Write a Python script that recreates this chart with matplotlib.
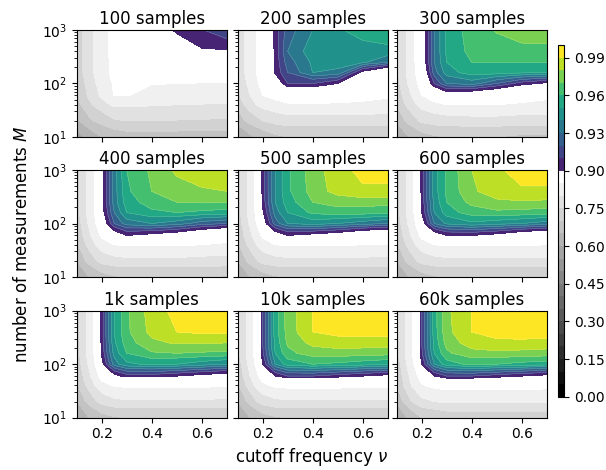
import numpy as np
import matplotlib
matplotlib.use("Agg")
import matplotlib.pyplot as plt

# grid the scan was run on
cutoff = [0.1, 0.15, 0.2, 0.25, 0.3, 0.4, 0.5, 0.6, 0.7]
measurements = [10, 20, 40, 60, 100, 160, 250, 400, 1000]

titles = ["100 samples", "200 samples", "300 samples",
          "400 samples", "500 samples", "600 samples",
          "1k samples", "10k samples", "60k samples"]

# rows go from M=10 (bottom) up to M=1000 (top), columns follow cutoff
acc_100 = [
    [0.58, 0.62, 0.65, 0.67, 0.68, 0.68, 0.68, 0.68, 0.68],
    [0.64, 0.69, 0.72, 0.745, 0.75, 0.75, 0.748, 0.746, 0.745],
    [0.68, 0.74, 0.78, 0.81, 0.81, 0.805, 0.80, 0.798, 0.795],
    [0.70, 0.76, 0.81, 0.852, 0.852, 0.835, 0.83, 0.83, 0.83],
    [0.71, 0.77, 0.825, 0.855, 0.858, 0.852, 0.85, 0.849, 0.848],
    [0.72, 0.78, 0.835, 0.86, 0.865, 0.87, 0.87, 0.87, 0.87],
    [0.72, 0.78, 0.835, 0.86, 0.87, 0.875, 0.88, 0.882, 0.885],
    [0.72, 0.78, 0.835, 0.862, 0.87, 0.88, 0.89, 0.899, 0.899],
    [0.72, 0.78, 0.835, 0.862, 0.87, 0.885, 0.903, 0.909, 0.922],
]
acc_200 = [
    [0.60, 0.64, 0.67, 0.69, 0.70, 0.70, 0.70, 0.70, 0.70],
    [0.67, 0.72, 0.75, 0.77, 0.78, 0.78, 0.78, 0.78, 0.775],
    [0.72, 0.78, 0.82, 0.835, 0.845, 0.845, 0.845, 0.845, 0.84],
    [0.74, 0.80, 0.85, 0.865, 0.88, 0.88, 0.875, 0.86, 0.855],
    [0.75, 0.82, 0.865, 0.885, 0.91, 0.91, 0.90, 0.87, 0.862],
    [0.76, 0.83, 0.87, 0.902, 0.92, 0.94, 0.938, 0.895, 0.875],
    [0.76, 0.83, 0.87, 0.903, 0.925, 0.942, 0.944, 0.942, 0.93],
    [0.76, 0.83, 0.87, 0.903, 0.93, 0.946, 0.946, 0.946, 0.948],
    [0.76, 0.83, 0.87, 0.904, 0.925, 0.94, 0.948, 0.956, 0.957],
]
acc_300 = [
    [0.60, 0.65, 0.68, 0.695, 0.70, 0.70, 0.70, 0.69, 0.69],
    [0.66, 0.72, 0.76, 0.775, 0.78, 0.785, 0.785, 0.78, 0.78],
    [0.70, 0.77, 0.82, 0.84, 0.85, 0.85, 0.85, 0.845, 0.84],
    [0.72, 0.79, 0.85, 0.875, 0.89, 0.885, 0.88, 0.87, 0.86],
    [0.73, 0.81, 0.87, 0.91, 0.93, 0.935, 0.92, 0.905, 0.897],
    [0.74, 0.82, 0.88, 0.925, 0.945, 0.955, 0.955, 0.952, 0.95],
    [0.74, 0.82, 0.885, 0.93, 0.95, 0.96, 0.96, 0.96, 0.96],
    [0.74, 0.82, 0.885, 0.93, 0.952, 0.963, 0.966, 0.968, 0.968],
    [0.74, 0.82, 0.885, 0.93, 0.952, 0.965, 0.971, 0.975, 0.976],
]
acc_400 = [
    [0.60, 0.65, 0.68, 0.695, 0.70, 0.70, 0.70, 0.70, 0.695],
    [0.65, 0.72, 0.77, 0.785, 0.79, 0.79, 0.79, 0.785, 0.785],
    [0.69, 0.77, 0.83, 0.85, 0.855, 0.855, 0.855, 0.85, 0.845],
    [0.71, 0.79, 0.86, 0.89, 0.90, 0.895, 0.89, 0.88, 0.87],
    [0.72, 0.81, 0.885, 0.92, 0.935, 0.94, 0.935, 0.925, 0.92],
    [0.73, 0.82, 0.893, 0.93, 0.95, 0.958, 0.96, 0.958, 0.956],
    [0.73, 0.82, 0.895, 0.935, 0.955, 0.965, 0.97, 0.971, 0.971],
    [0.73, 0.82, 0.895, 0.935, 0.958, 0.97, 0.977, 0.979, 0.98],
    [0.73, 0.82, 0.895, 0.935, 0.96, 0.972, 0.982, 0.987, 0.991],
]
acc_500 = [
    [0.60, 0.65, 0.68, 0.695, 0.70, 0.70, 0.70, 0.70, 0.70],
    [0.65, 0.72, 0.77, 0.785, 0.79, 0.79, 0.79, 0.79, 0.785],
    [0.69, 0.77, 0.83, 0.85, 0.855, 0.855, 0.855, 0.85, 0.85],
    [0.71, 0.79, 0.86, 0.89, 0.90, 0.895, 0.89, 0.88, 0.875],
    [0.72, 0.81, 0.89, 0.925, 0.94, 0.945, 0.94, 0.935, 0.93],
    [0.73, 0.82, 0.898, 0.935, 0.95, 0.962, 0.966, 0.965, 0.962],
    [0.73, 0.82, 0.903, 0.94, 0.955, 0.97, 0.974, 0.975, 0.974],
    [0.73, 0.82, 0.905, 0.94, 0.958, 0.974, 0.984, 0.989, 0.989],
    [0.73, 0.82, 0.905, 0.94, 0.958, 0.975, 0.986, 0.993, 0.993],
]
acc_600 = [
    [0.60, 0.65, 0.68, 0.695, 0.70, 0.70, 0.70, 0.70, 0.70],
    [0.65, 0.72, 0.77, 0.785, 0.79, 0.79, 0.79, 0.79, 0.79],
    [0.69, 0.77, 0.83, 0.85, 0.855, 0.855, 0.855, 0.855, 0.85],
    [0.71, 0.79, 0.865, 0.89, 0.90, 0.90, 0.895, 0.885, 0.88],
    [0.72, 0.81, 0.89, 0.93, 0.942, 0.948, 0.944, 0.94, 0.935],
    [0.73, 0.82, 0.90, 0.94, 0.955, 0.965, 0.968, 0.967, 0.965],
    [0.73, 0.82, 0.903, 0.943, 0.96, 0.973, 0.978, 0.979, 0.978],
    [0.73, 0.82, 0.905, 0.945, 0.962, 0.978, 0.986, 0.989, 0.989],
    [0.73, 0.82, 0.905, 0.945, 0.962, 0.98, 0.988, 0.995, 0.995],
]
acc_1k = [
    [0.60, 0.65, 0.68, 0.695, 0.70, 0.70, 0.70, 0.70, 0.70],
    [0.65, 0.72, 0.77, 0.79, 0.795, 0.795, 0.795, 0.795, 0.79],
    [0.69, 0.77, 0.835, 0.855, 0.86, 0.86, 0.86, 0.86, 0.855],
    [0.71, 0.79, 0.87, 0.895, 0.905, 0.905, 0.90, 0.895, 0.89],
    [0.72, 0.81, 0.895, 0.935, 0.948, 0.952, 0.95, 0.945, 0.94],
    [0.73, 0.82, 0.902, 0.944, 0.96, 0.969, 0.97, 0.969, 0.968],
    [0.73, 0.82, 0.905, 0.948, 0.965, 0.978, 0.981, 0.981, 0.98],
    [0.73, 0.82, 0.905, 0.95, 0.968, 0.983, 0.99, 0.992, 0.992],
    [0.73, 0.82, 0.905, 0.95, 0.968, 0.985, 0.993, 0.996, 0.996],
]
acc_10k = [
    [0.60, 0.65, 0.68, 0.695, 0.70, 0.70, 0.70, 0.70, 0.70],
    [0.65, 0.72, 0.775, 0.79, 0.795, 0.795, 0.795, 0.795, 0.795],
    [0.69, 0.78, 0.84, 0.86, 0.865, 0.865, 0.865, 0.86, 0.86],
    [0.71, 0.80, 0.875, 0.90, 0.91, 0.91, 0.905, 0.90, 0.895],
    [0.72, 0.82, 0.90, 0.94, 0.955, 0.96, 0.958, 0.955, 0.952],
    [0.74, 0.83, 0.908, 0.95, 0.967, 0.975, 0.976, 0.975, 0.974],
    [0.74, 0.83, 0.91, 0.953, 0.972, 0.983, 0.986, 0.986, 0.985],
    [0.74, 0.83, 0.91, 0.955, 0.974, 0.99, 0.993, 0.994, 0.994],
    [0.74, 0.83, 0.91, 0.955, 0.975, 0.99, 0.996, 0.997, 0.997],
]
acc_60k = [
    [0.60, 0.66, 0.70, 0.71, 0.72, 0.72, 0.72, 0.72, 0.72],
    [0.66, 0.74, 0.79, 0.80, 0.81, 0.81, 0.81, 0.81, 0.81],
    [0.70, 0.79, 0.845, 0.865, 0.87, 0.87, 0.87, 0.87, 0.865],
    [0.71, 0.80, 0.875, 0.90, 0.91, 0.91, 0.905, 0.90, 0.895],
    [0.72, 0.82, 0.90, 0.94, 0.956, 0.962, 0.96, 0.957, 0.955],
    [0.74, 0.83, 0.908, 0.95, 0.968, 0.977, 0.978, 0.977, 0.976],
    [0.74, 0.83, 0.91, 0.953, 0.974, 0.985, 0.988, 0.988, 0.987],
    [0.74, 0.83, 0.91, 0.955, 0.977, 0.99, 0.994, 0.995, 0.995],
    [0.74, 0.83, 0.91, 0.955, 0.978, 0.99, 0.997, 0.998, 0.998],
]
panels = [acc_100, acc_200, acc_300, acc_400, acc_500, acc_600,
          acc_1k, acc_10k, acc_60k]

# coarse grey steps below 0.9, fine viridis steps above
levels = [round(v, 2) for v in np.arange(0, 0.9, 0.05)] + \
         [round(v, 2) for v in np.arange(0.9, 1.001, 0.01)]
colors = list(plt.cm.gray(np.linspace(0, 1, 18))) + \
         list(plt.cm.viridis(np.linspace(0.1, 1, 10)))

fig = plt.figure(figsize=(6.06, 4.70), dpi=100)

lefts = [0.1266, 0.3922, 0.6546]
bottoms = [0.7085, 0.4106, 0.1113]
w, h = 0.2475, 0.2277

for i, acc in enumerate(panels):
    r, c = divmod(i, 3)
    ax = fig.add_axes([lefts[c], bottoms[r], w, h])
    Z = np.array(acc)
    cs = ax.contourf(cutoff, measurements, Z, levels=levels, colors=colors)
    ax.contour(cutoff, measurements, Z, levels=levels[19:-1], colors="white",
               linewidths=0.3, alpha=0.35)
    ax.set_yscale("log")
    ax.set_xlim(0.1, 0.7)
    ax.set_ylim(10, 1000)
    ax.set_xticks([0.2, 0.4, 0.6])
    ax.set_title(titles[i], fontsize=12, pad=4)
    ax.tick_params(labelsize=10)
    if c != 0:
        ax.set_yticklabels([])
    if r != 2:
        ax.set_xticklabels([])

cax = fig.add_axes([0.9213, 0.156, 0.0099, 0.748])
cbar = fig.colorbar(cs, cax=cax,
                    ticks=[0, 0.15, 0.3, 0.45, 0.6, 0.75, 0.9, 0.93, 0.96, 0.99],
                    format="%.2f")
cbar.ax.tick_params(labelsize=10)

fig.text(0.515, 0.027, r"cutoff frequency $\nu$", ha="center", va="center", fontsize=12)
fig.text(0.036, 0.48, r"number of measurements $M$", ha="center", va="center",
         rotation=90, fontsize=12)

fig.savefig("out.png", dpi=100)
